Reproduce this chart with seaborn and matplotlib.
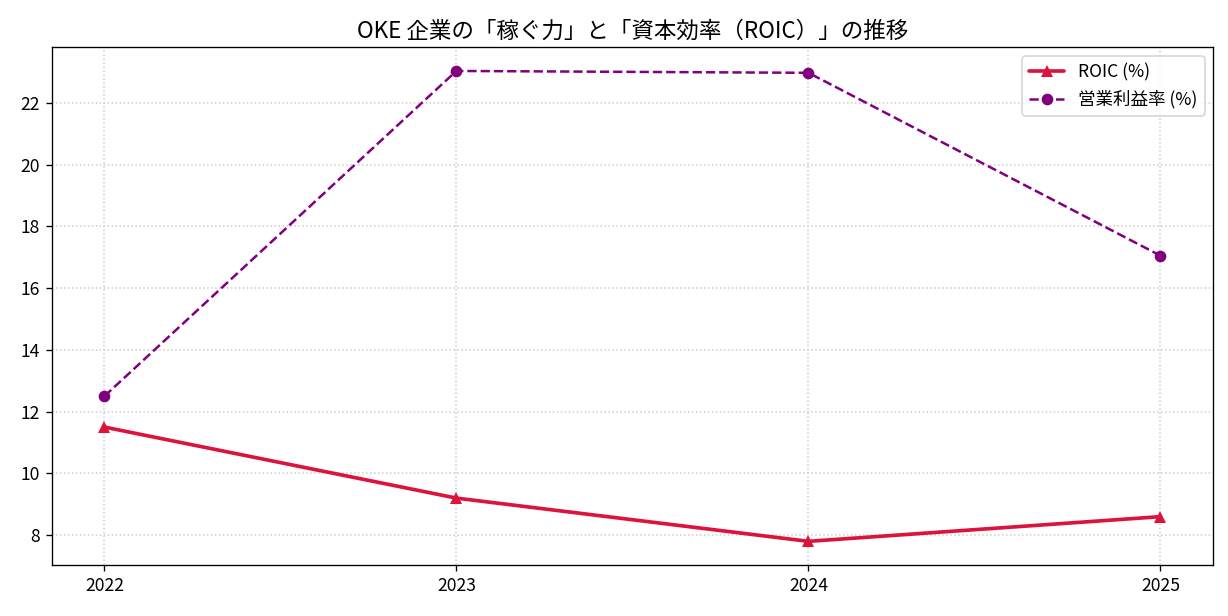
import pandas as pd
import matplotlib
matplotlib.use("Agg")
import matplotlib.pyplot as plt
import seaborn as sns

# データ
years = [2022, 2023, 2024, 2025]
roic = [11.5, 9.2, 7.8, 8.6]
op_margin = [12.5, 23.03, 22.97, 17.05]

df = pd.DataFrame({"year": years, "roic": roic, "op_margin": op_margin})

sns.set_style("ticks")
plt.rcParams["font.family"] = ["Noto Sans CJK JP", "DejaVu Sans"]
plt.rcParams["text.color"] = "black"
plt.rcParams["xtick.color"] = "black"
plt.rcParams["ytick.color"] = "black"
plt.rcParams["axes.edgecolor"] = "black"

fig, ax = plt.subplots(figsize=(1228 / 120, 616 / 120), dpi=120)
fig.subplots_adjust(left=0.042, right=0.988, top=0.923, bottom=0.083)

sns.lineplot(data=df, x="year", y="roic", ax=ax, color="crimson",
             linewidth=2.2, marker="^", markersize=7, markeredgewidth=0,
             label="ROIC (%)")
sns.lineplot(data=df, x="year", y="op_margin", ax=ax, color="purple",
             linewidth=1.5, linestyle="--", marker="o", markersize=7,
             markeredgewidth=0, label="営業利益率 (%)")

ax.set_xticks(years)
ax.set_xticklabels([str(y) for y in years])
ax.set_xlabel("")
ax.set_ylabel("")
ax.tick_params(labelsize=10.5, color="black")
ax.grid(True, linestyle=":", color="#cccccc", linewidth=0.9)
ax.set_title("OKE 企業の「稼ぐ力」と「資本効率（ROIC）」の推移", fontsize=13.5)
ax.legend(loc="upper right", fontsize=10.5, frameon=True)

plt.savefig("out.png", dpi=120)
